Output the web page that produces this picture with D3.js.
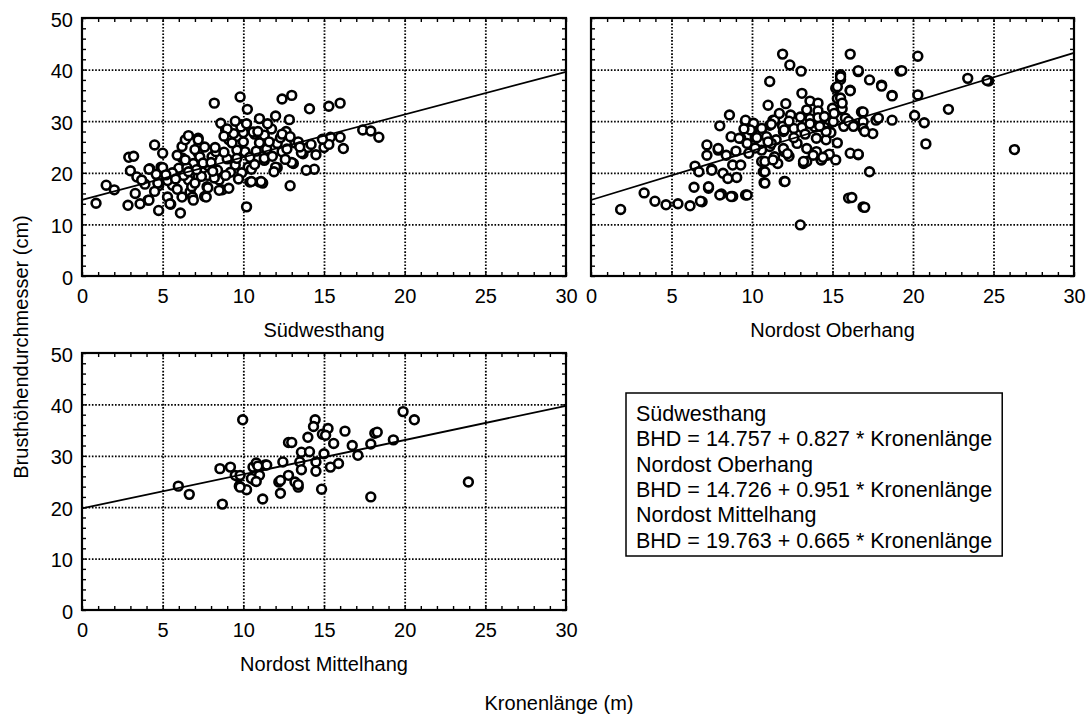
<!DOCTYPE html>
<html lang="de">
<head>
<meta charset="utf-8">
<title>Brusthöhendurchmesser vs. Kronenlänge</title>
<script src="https://d3js.org/d3.v7.min.js"></script>
<style>
  body { margin: 0; background: #fff; }
  svg { display: block; }
  text { font-family: "Liberation Sans", Arial, sans-serif; fill: #000; }
</style>
</head>
<body>
<svg id="chart" width="1089" height="716"></svg>
<script>
// Daten: [Kronenlänge (m), BHD (cm)]
const suedwestPts = [
  [0.87,14.1],[1.5,17.6],[2.0,16.7],[2.9,23.0],[3.2,23.2],[3.0,20.4],[2.85,13.7],[3.3,16.0],[3.4,19.2],[3.6,14.0],
  [4.1,14.7],[4.2,20.8],[4.5,25.4],[4.75,12.7],[5.0,23.8],[4.9,21.1],[4.75,17.5],[4.6,19.7],[5.3,15.3],[5.5,13.9],
  [5.6,17.6],[5.3,18.5],[6.1,12.2],[6.0,20.9],[6.2,22.9],[6.2,25.1],[6.4,26.4],[6.6,27.2],[6.7,16.3],[6.85,15.3],
  [6.6,18.6],[6.9,21.8],[7.2,23.8],[7.2,26.7],[7.25,25.4],[7.2,19.2],[7.6,15.4],[7.75,17.3],[7.8,19.5],[7.8,21.4],
  [8.06,23.1],[8.2,33.5],[8.3,24.1],[8.5,18.6],[8.7,16.7],[8.6,29.6],[8.9,28.3],[9.1,17.0],[9.1,26.4],[9.4,27.6],
  [9.5,21.5],[9.8,34.7],[9.9,29.3],[9.7,25.4],[10.1,24.1],[10.2,13.4],[10.25,32.3],[10.3,21.1],[10.4,18.2],[10.7,27.5],
  [10.6,27.9],[11.0,18.2],[11.2,18.0],[11.3,22.4],[11.45,24.6],[11.75,28.5],[12.0,31.0],[12.1,25.7],[12.1,21.0],[12.4,34.3],
  [12.65,28.0],[12.85,30.3],[12.9,17.5],[13.0,35.0],[13.1,21.8],[13.2,25.8],[13.7,23.7],[14.0,24.9],[13.6,23.9],[14.1,32.4],
  [14.4,20.7],[13.9,20.5],[15.0,24.9],[15.3,32.9],[16.0,33.5],[15.4,26.9],[16.0,26.9],[16.2,24.7],[17.4,28.3],[17.9,28.1],
  [18.4,26.9],[11.3,27.3],[11.3,22.8],[12.4,24.1],[13.0,22.0],[12.0,21.1],[10.5,20.7],[11.1,18.3],[10.5,18.3],[9.0,22.7],
  [9.2,20.1],[9.6,24.4],[10.0,26.0],[10.0,27.8],[9.85,28.9],[9.0,28.5],[8.8,27.1],[8.25,24.9],[8.5,16.6],[7.3,23.1],
  [7.5,21.9],[7.4,19.3],[7.7,15.3],[7.8,17.1],[6.8,17.3],[6.9,14.7],[7.2,26.4],[6.3,19.5],[5.9,23.4],[5.0,21.0],
  [4.15,20.7],[4.15,14.7],[4.7,18.0],[5.45,14.0],[5.6,20.0],[5.8,18.8],[6.5,21.0],[6.4,22.5],[7.0,24.5],[7.6,25.0],
  [8.0,22.0],[8.4,20.5],[8.2,19.0],[8.8,24.0],[9.3,25.8],[9.6,22.8],[10.4,23.0],[10.8,24.2],[11.0,25.8],[11.6,26.0],
  [10.2,29.5],[10.9,28.0],[11.5,29.5],[12.3,26.8],[12.7,24.6],[13.4,26.0],[13.5,25.0],[12.6,22.6],[11.8,23.2],[10.7,21.6],
  [9.9,20.0],[9.7,18.8],[8.9,19.5],[8.1,20.3],[7.1,20.6],[6.6,20.2],[5.9,16.8],[5.2,19.6],[4.5,16.4],[3.9,17.8],
  [3.7,18.6],[6.2,15.3],[7.0,18.0],[11.9,20.2],[12.4,27.5],[9.5,30.0],[11.0,30.5],[12.9,27.0],[14.5,23.5],[15.3,25.5],
  [14.9,26.5],[14.2,25.5]
];

const oberhangPts = [
  [1.84,12.9],[3.3,16.1],[3.97,14.5],[4.66,13.8],[5.4,14.0],[6.15,13.6],[6.9,14.4],[6.4,17.2],[6.46,21.3],[6.7,20.2],
  [7.2,25.4],[7.2,23.4],[7.3,17.0],[7.5,20.7],[8.0,29.1],[8.6,31.2],[7.9,24.4],[8.1,15.9],[8.2,19.9],[8.4,23.4],
  [8.5,18.9],[8.8,15.4],[8.8,21.5],[8.7,27.0],[9.05,19.1],[9.3,21.5],[9.3,26.7],[9.6,15.7],[9.6,29.9],[9.8,23.8],
  [10.0,29.3],[10.2,26.9],[10.5,27.7],[10.6,22.2],[10.7,20.2],[10.75,18.1],[11.0,33.1],[11.1,37.7],[11.1,29.2],[11.3,30.2],
  [11.1,25.1],[11.4,23.1],[11.6,21.8],[11.9,43.0],[12.35,40.9],[12.1,33.4],[12.0,18.3],[11.95,28.0],[12.0,24.1],[12.3,23.2],
  [13.05,39.7],[13.0,9.9],[13.1,35.4],[13.2,21.8],[13.4,22.2],[13.6,33.9],[14.0,24.1],[14.1,33.5],[14.3,22.5],[14.4,30.9],
  [16.1,43.0],[15.5,39.0],[15.5,38.1],[16.6,39.6],[17.3,38.0],[18.05,37.0],[18.7,35.0],[19.2,39.7],[15.2,36.4],[16.1,36.0],
  [15.3,34.4],[13.4,32.2],[14.1,32.0],[15.4,32.2],[15.6,32.4],[16.8,31.8],[12.4,31.2],[13.0,30.8],[13.6,30.5],[14.1,30.7],
  [9.6,30.2],[10.1,29.6],[11.4,30.2],[11.9,29.0],[11.2,29.4],[10.6,28.6],[9.9,28.3],[9.5,28.5],[9.2,26.7],[9.7,25.7],
  [10.3,26.8],[10.9,27.0],[11.5,26.4],[12.0,28.3],[12.6,28.6],[13.1,28.8],[13.9,28.9],[14.5,28.8],[15.05,29.9],[15.8,30.6],
  [16.3,29.3],[16.9,29.9],[17.7,30.2],[18.7,30.2],[17.5,27.6],[16.9,28.6],[15.7,29.0],[7.9,24.7],[7.5,20.5],[7.3,17.3],
  [8.0,15.7],[8.7,15.4],[9.7,15.7],[6.8,14.5],[10.6,24.4],[10.8,22.2],[10.8,20.2],[10.8,18.0],[12.05,18.3],[11.2,25.7],
  [11.95,24.7],[12.2,23.7],[11.3,22.5],[12.8,25.7],[13.4,24.7],[13.8,23.4],[13.2,22.2],[14.3,22.5],[14.7,23.4],[15.2,22.5],
  [16.1,23.8],[16.6,23.5],[17.3,20.2],[16.0,15.1],[16.2,15.2],[16.9,13.4],[14.0,26.7],[14.6,26.4],[14.9,27.8],[20.3,42.6],
  [16.6,39.8],[18.05,36.8],[18.7,34.9],[19.3,39.8],[20.3,35.1],[23.4,38.3],[24.7,37.8],[24.6,37.9],[22.2,32.3],[20.1,31.1],
  [20.7,29.7],[20.8,25.6],[26.3,24.5],[17.85,30.6],[16.9,31.8],[16.6,23.6],[17.0,13.3],[14.8,23.6],[14.4,23.0],[15.5,38.6],
  [15.3,36.7],[16.1,35.9],[15.5,34.5],[14.5,30.9],[15.0,32.5],[16.0,30.0],[16.3,29.0],[17.0,28.0],[14.6,28.0],[15.3,25.8],
  [15.1,31.5],[15.6,33.5],[13.3,27.5],[12.6,26.8],[11.0,26.0],[10.2,24.8],[9.0,24.2],[13.6,29.5],[14.2,29.0],[12.3,30.0],
  [11.7,31.5]
];

const mittelhangPts = [
  [5.97,24.1],[6.65,22.5],[8.7,20.6],[8.55,27.5],[9.2,27.8],[9.7,25.9],[9.75,24.1],[10.2,23.4],[9.96,37.0],[10.7,25.2],
  [10.6,27.8],[10.8,28.6],[11.35,28.2],[11.0,26.2],[11.2,21.6],[12.2,24.9],[12.3,22.7],[12.45,28.8],[12.8,32.6],[13.0,32.6],
  [12.8,26.2],[13.2,24.9],[13.4,23.9],[13.5,28.8],[13.6,27.3],[13.6,30.7],[14.0,33.6],[14.1,30.8],[14.45,37.0],[14.35,35.7],
  [14.5,28.8],[14.5,27.0],[14.85,23.5],[15.0,30.4],[14.9,34.2],[15.25,35.3],[15.6,32.4],[16.3,34.8],[16.75,32.0],[17.1,30.1],
  [17.9,32.3],[18.15,34.4],[18.3,34.6],[19.3,33.1],[19.9,38.6],[20.6,37.0],[23.95,24.9],[17.9,22.0],[15.4,27.8],[15.9,28.5],
  [15.1,34.0],[12.3,25.2],[13.4,24.4],[11.45,28.2],[10.9,28.0],[9.5,26.2],[9.8,26.2],[10.5,25.6],[9.8,23.9],[10.8,25.0]
];

// Regression: BHD = a + b * Kronenlänge
const panelNames = ["Südwesthang", "Nordost Oberhang", "Nordost Mittelhang"];
const intercepts = [14.757, 14.726, 19.763];
const slopes = [0.827, 0.951, 0.665];
const xTicks = [0, 5, 10, 15, 20, 25, 30];
const yTicks = [0, 10, 20, 30, 40, 50];
const legendLines = [
  "Südwesthang", "BHD = 14.757 + 0.827 * Kronenlänge",
  "Nordost Oberhang", "BHD = 14.726 + 0.951 * Kronenlänge",
  "Nordost Mittelhang", "BHD = 19.763 + 0.665 * Kronenlänge"
];

const svg = d3.select("#chart");
const fs = 20;

// Panel-Positionen
const panels = [
  { data: suedwestPts, left: 82, top: 18, w: 484, h: 258, yLab: true },
  { data: oberhangPts, left: 591, top: 18, w: 483, h: 258, yLab: false },
  { data: mittelhangPts, left: 82, top: 353, w: 484, h: 257, yLab: true }
];

panels.forEach((p, i) => {
  const g = svg.append("g").attr("transform", `translate(${p.left},${p.top})`);
  const x = d3.scaleLinear().domain([0, 30]).range([0, p.w]);
  const y = d3.scaleLinear().domain([0, 50]).range([p.h, 0]);

  // Gitter (gepunktet)
  const gx = g.append("g").attr("transform", `translate(0,${p.h})`)
    .call(d3.axisBottom(x).tickValues([5, 10, 15, 20, 25]).tickSize(-p.h).tickFormat(""));
  const gy = g.append("g")
    .call(d3.axisLeft(y).tickValues([10, 20, 30, 40]).tickSize(-p.w).tickFormat(""));
  [gx, gy].forEach(a => {
    a.select(".domain").remove();
    a.selectAll("line").attr("stroke", "#000").attr("stroke-width", 1.8).attr("stroke-dasharray", "1.6,1.7");
  });

  // kleine Ticks innen auf allen Seiten
  const minor = [
    g.append("g").attr("transform", `translate(0,${p.h})`).call(d3.axisBottom(x).ticks(30).tickSize(-4).tickFormat("")),
    g.append("g").call(d3.axisTop(x).ticks(30).tickSize(-4).tickFormat("")),
    g.append("g").call(d3.axisLeft(y).tickValues(d3.range(0, 51, 2)).tickSize(-4).tickFormat("")),
    g.append("g").attr("transform", `translate(${p.w},0)`).call(d3.axisRight(y).tickValues(d3.range(0, 51, 2)).tickSize(-4).tickFormat(""))
  ];
  minor.forEach(a => {
    a.select(".domain").remove();
    a.selectAll("line").attr("stroke", "#000").attr("stroke-width", 1.4);
  });

  // Beschriftung der Achsen
  const xl = g.append("g").attr("transform", `translate(0,${p.h})`)
    .call(d3.axisBottom(x).tickValues(xTicks).tickSize(0).tickPadding(12));
  xl.select(".domain").remove();
  xl.attr("font-family", null);
  xl.selectAll("text").attr("font-size", fs).attr("dy", "0.75em");
  if (p.yLab) {
    const yl = g.append("g")
      .call(d3.axisLeft(y).tickValues(yTicks).tickSize(0).tickPadding(9));
    yl.select(".domain").remove();
    yl.attr("font-family", null);
    yl.selectAll("text").attr("font-size", fs).attr("dy", "0.4em");
  }

  // Punkte
  g.append("g").selectAll("circle")
    .data(p.data)
    .join("circle")
    .attr("cx", d => x(d[0]))
    .attr("cy", d => y(d[1]))
    .attr("r", 4.4)
    .attr("fill", "#fff")
    .attr("stroke", "#000")
    .attr("stroke-width", 2.6);

  // Regressionsgerade
  const line = d3.line().x(d => x(d)).y(d => y(intercepts[i] + slopes[i] * d));
  g.append("path")
    .datum([0, 30])
    .attr("d", line)
    .attr("fill", "none")
    .attr("stroke", "#000")
    .attr("stroke-width", 1.8);

  // Rahmen
  g.append("rect")
    .attr("width", p.w).attr("height", p.h)
    .attr("fill", "none").attr("stroke", "#000").attr("stroke-width", 2.2);

  // Titel
  g.append("text")
    .attr("x", p.w / 2).attr("y", p.h + 61)
    .attr("text-anchor", "middle").attr("font-size", fs)
    .text(panelNames[i]);
});

// Achsentitel
svg.append("text")
  .attr("x", 559).attr("y", 710)
  .attr("text-anchor", "middle").attr("font-size", fs)
  .text("Kronenlänge (m)");
svg.append("text")
  .attr("transform", "translate(28,347) rotate(-90)")
  .attr("text-anchor", "middle").attr("font-size", fs)
  .text("Brusthöhendurchmesser (cm)");

// Legende mit Gleichungen
const leg = svg.append("g");
const legBox = leg.append("rect")
  .attr("x", 626).attr("y", 393).attr("height", 163)
  .attr("fill", "#fff").attr("stroke", "#000").attr("stroke-width", 1.5);
const legText = leg.selectAll("text")
  .data(legendLines)
  .join("text")
  .attr("x", 636)
  .attr("y", (d, k) => 421 + k * 25.3)
  .attr("font-size", 21.5)
  .text(d => d);
let maxW = 0;
legText.each(function () { maxW = Math.max(maxW, this.getComputedTextLength()); });
legBox.attr("width", maxW + 20);
</script>
</body>
</html>
